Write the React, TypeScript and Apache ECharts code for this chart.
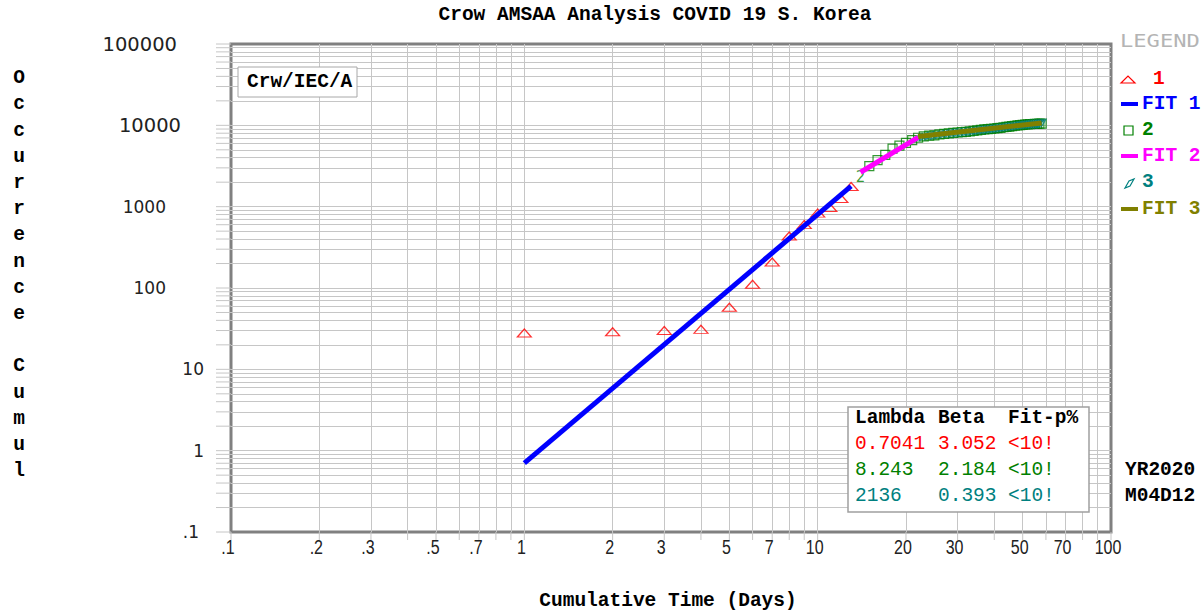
import React, { useEffect, useRef } from "react";
import * as echarts from "echarts";

// ---------- DATA ----------
const series1Days = [1, 2, 3, 4, 5, 6, 7, 8, 9, 10, 11, 12, 13];
const series1Cases = [28, 29, 30, 31, 58, 111, 209, 436, 602, 833, 977, 1261, 1766];

const series2Days = [
  14, 15, 16, 17, 18, 19, 20, 21, 22, 23, 24, 25, 26, 27, 28, 29, 30, 31, 32, 33, 34, 35, 36,
  37, 38, 39, 40, 41, 42, 43, 44, 45, 46, 47, 48, 49, 50, 51, 52, 53, 54, 55, 56, 57, 58,
];
const series2Cases = [
  2337, 3150, 3736, 4335, 5186, 5621, 6088, 6593, 7041, 7313, 7478, 7513, 7755, 7869, 7979,
  8086, 8162, 8236, 8320, 8413, 8565, 8652, 8799, 8897, 8961, 9037, 9137, 9241, 9332, 9478,
  9583, 9661, 9786, 9887, 9976, 10062, 10156, 10237, 10284, 10331, 10384, 10423, 10450, 10480,
  10512,
];

const series3Days = [
  22, 23, 24, 25, 26, 27, 28, 29, 30, 31, 32, 33, 34, 35, 36, 37, 38, 39, 40, 41, 42, 43, 44,
  45, 46, 47, 48, 49, 50, 51, 52, 53, 54, 55, 56, 57, 58,
];
const series3Cases = [
  7041, 7313, 7478, 7513, 7755, 7869, 7979, 8086, 8162, 8236, 8320, 8413, 8565, 8652, 8799,
  8897, 8961, 9037, 9137, 9241, 9332, 9478, 9583, 9661, 9786, 9887, 9976, 10062, 10156, 10237,
  10284, 10331, 10384, 10423, 10450, 10480, 10512,
];

const fit1Days = [1, 13];
const fit1Values = [0.704, 1790];
const fit2Days = [14, 22];
const fit2Values = [2650, 7100];
const fit3Days = [22, 58];
const fit3Values = [7300, 10700];

const xTickValues = [0.1, 0.2, 0.3, 0.5, 0.7, 1, 2, 3, 5, 7, 10, 20, 30, 50, 70, 100];
const xTickLabels = [".1", ".2", ".3", ".5", ".7", "1", "2", "3", "5", "7", "10", "20", "30", "50", "70", "100"];
const yTickValues = [0.1, 1, 10, 100, 1000, 10000, 100000];
const yTickLabels = [".1", "1", "10", "100", "1000", "10000", "100000"];

const tableHeader = ["Lambda", "Beta", "Fit-p%"];
const tableLambda = ["0.7041", "8.243", "2136"];
const tableBeta = ["3.052", "2.184", "0.393"];
const tableFit = ["<10!", "<10!", "<10!"];

const legendNames = ["1", "FIT 1", "2", "FIT 2", "3", "FIT 3"];

// ---------- STYLE / LAYOUT ----------
const RED = "#ff0000";
const BLUE = "#0000ff";
const GREEN = "#008000";
const MAGENTA = "#ff00ff";
const TEAL = "#008080";
const OLIVE = "#808000";
const rowColors = [RED, GREEN, TEAL];
const legendColors = [RED, BLUE, GREEN, MAGENTA, TEAL, OLIVE];
const legendKinds = ["tri", "line", "square", "line", "para", "line"];
const legendRowY = [79, 104, 130, 156, 182, 209];
const legendTextX = [1153, 1142, 1142, 1142, 1142, 1142];

const MONO = "'Liberation Mono', 'DejaVu Sans Mono', monospace";
const GRID = { left: 231, top: 44, right: 92, bottom: 81 };
const yLabelRight = [199, 204, 204, 166, 166, 181, 177];
const yLabelSize = [17, 17, 17, 17, 17, 19.5, 19.5];
const GRID_COLOR = "#c6c6c6";

const decadeMultiples = (from: number, to: number) => {
  const out: number[] = [];
  for (let d = from; d < to; d *= 10) {
    for (let m = 1; m <= 9; m++) out.push(+(d * m).toPrecision(6));
  }
  out.push(to);
  return out;
};
const xGrid = decadeMultiples(0.1, 100);
const yGrid = decadeMultiples(0.1, 100000);

const pairs = (xs: number[], ys: number[]) => xs.map((x, i) => [x, ys[i]]);

export default function App() {
  const ref = useRef<HTMLDivElement>(null);

  useEffect(() => {
    document.body.style.margin = "0";
    const chart = echarts.init(ref.current!, undefined, { renderer: "svg" });

    const s2Data: any[] = pairs(series2Days, series2Cases).map((p, i) =>
      i === 0
        ? {
            value: p,
            symbolSize: 0,
            label: {
              show: true,
              position: "inside",
              formatter: "2",
              color: GREEN,
              fontSize: 15,
              fontFamily: "DejaVu Sans",
            },
          }
        : p
    );

    const innerGrid = [
      ...xGrid.filter((v) => v > 0.1 && v < 100).map((v) => ({ xAxis: v })),
      ...yGrid.filter((v) => v > 0.1 && v < 100000).map((v) => ({ yAxis: v })),
    ];

    chart.setOption({
      animation: false,
      backgroundColor: "#ffffff",
      grid: {
        ...GRID,
        show: true,
        borderColor: "#808080",
        borderWidth: 3,
        backgroundColor: "transparent",
        containLabel: false,
      },
      xAxis: {
        type: "log",
        logBase: 10,
        min: 0.1,
        max: 100,
        axisLabel: { show: false },
        axisLine: { show: false },
        axisTick: { show: false },
        splitLine: { show: false },
      },
      yAxis: {
        type: "log",
        logBase: 10,
        min: 0.1,
        max: 100000,
        axisLabel: { show: false },
        axisLine: { show: false },
        axisTick: { show: false },
        splitLine: { show: false },
      },
      series: [
        {
          name: "gridlines",
          type: "line",
          data: [],
          z: 1,
          silent: true,
          markLine: {
            z: 1,
            silent: true,
            symbol: "none",
            label: { show: false },
            animation: false,
            lineStyle: { color: GRID_COLOR, width: 1, type: "solid" },
            emphasis: { disabled: true },
            data: innerGrid,
          },
        },
        {
          name: "1",
          type: "scatter",
          z: 3,
          symbol: "path://M0,8L7,0L14,8Z",
          symbolSize: [14, 8],
          itemStyle: { color: "rgba(0,0,0,0)", borderColor: RED, borderWidth: 1.2 },
          data: pairs(series1Days, series1Cases),
        },
        {
          name: "FIT 1",
          type: "line",
          z: 4,
          symbol: "none",
          showSymbol: false,
          lineStyle: { color: BLUE, width: 5 },
          itemStyle: { color: BLUE },
          data: pairs(fit1Days, fit1Values),
        },
        {
          name: "2",
          type: "scatter",
          z: 3,
          symbol: "rect",
          symbolSize: 9,
          itemStyle: { color: "rgba(0,0,0,0)", borderColor: GREEN, borderWidth: 1.2 },
          data: s2Data,
        },
        {
          name: "FIT 2",
          type: "line",
          z: 4,
          symbol: "none",
          showSymbol: false,
          lineStyle: { color: MAGENTA, width: 5 },
          itemStyle: { color: MAGENTA },
          data: pairs(fit2Days, fit2Values),
        },
        {
          name: "3",
          type: "scatter",
          z: 3,
          symbol: "path://M0,10L4,3L10,0L6,7Z",
          symbolSize: 8,
          itemStyle: { color: "rgba(0,0,0,0)", borderColor: TEAL, borderWidth: 1.2 },
          data: pairs(series3Days, series3Cases),
        },
        {
          name: "FIT 3",
          type: "line",
          z: 4,
          symbol: "none",
          showSymbol: false,
          lineStyle: { color: OLIVE, width: 5 },
          itemStyle: { color: OLIVE },
          data: pairs(fit3Days, fit3Values),
        },
      ],
    });

    const toX = (v: number) => chart.convertToPixel({ xAxisIndex: 0 }, v) as number;
    const toY = (v: number) => chart.convertToPixel({ yAxisIndex: 0 }, v) as number;
    const bottomY = toY(0.1);
    const leftX = toX(0.1);

    const g: any[] = [];
    // outside ticks
    xGrid.forEach((v) => {
      const x = toX(v);
      g.push({
        type: "line",
        silent: true,
        shape: { x1: x, y1: bottomY, x2: x, y2: bottomY + 8 },
        style: { stroke: GRID_COLOR, lineWidth: 1 },
      });
    });
    yGrid.forEach((v) => {
      const y = toY(v);
      g.push({
        type: "line",
        silent: true,
        shape: { x1: leftX - 15, y1: y, x2: leftX, y2: y },
        style: { stroke: GRID_COLOR, lineWidth: 1 },
      });
    });
    // x tick labels
    xTickValues.forEach((v, i) => {
      g.push({
        type: "text",
        x: toX(v) - 3,
        y: bottomY + 15,
        scaleX: 0.8,
        style: {
          text: xTickLabels[i],
          fontFamily: "'Liberation Sans', Arial, sans-serif",
          fontSize: 20,
          fill: "#222",
          align: "center",
          verticalAlign: "middle",
        },
      });
    });
    // y tick labels
    yTickValues.forEach((v, i) => {
      g.push({
        type: "text",
        x: yLabelRight[i],
        y: toY(v),
        style: {
          text: yTickLabels[i],
          fontFamily: "'DejaVu Sans', sans-serif",
          fontSize: yLabelSize[i],
          fill: "#222",
          align: "right",
          verticalAlign: "middle",
        },
      });
    });
    const monoText = (text: string, x: number, y: number, fill: string, bold = true, align = "left") => ({
      type: "text",
      x,
      y,
      z: 11,
      style: {
        text,
        fontFamily: MONO,
        fontWeight: bold ? "bold" : "normal",
        fontSize: 19.5,
        fill,
        align,
        verticalAlign: "middle",
      },
    });
    // titles
    g.push(monoText("Crow AMSAA Analysis COVID 19 S. Korea", 655, 15, "#000", true, "center"));
    g.push(monoText("Cumulative Time (Days)", 668, 601, "#000", true, "center"));
    g.push({
      type: "text",
      x: 19,
      y: 65,
      style: {
        text: "Occurrence Cumul".split("").join("\n"),
        fontFamily: MONO,
        fontWeight: "bold",
        fontSize: 19.5,
        lineHeight: 26.2,
        fill: "#000",
        align: "center",
        verticalAlign: "top",
      },
    });
    // method box
    g.push({
      type: "rect",
      z: 10,
      shape: { x: 238, y: 67, width: 119, height: 30 },
      style: { fill: "#fff", stroke: "#a8a8a8", lineWidth: 1 },
    });
    g.push(monoText("Crw/IEC/A", 247, 82, "#000"));
    // parameter table
    g.push({
      type: "rect",
      z: 10,
      shape: { x: 848, y: 407, width: 241, height: 105 },
      style: { fill: "#fff", stroke: "#a0a0a0", lineWidth: 1.5 },
    });
    const colX = [855, 938, 1008];
    tableHeader.forEach((h, c) => g.push(monoText(h, colX[c], 418, "#000")));
    [tableLambda, tableBeta, tableFit].forEach((col, c) => {
      col.forEach((val, r) => g.push(monoText(val, colX[c], 444 + r * 26, rowColors[r], false)));
    });
    // date stamp
    ["YR2020", "M04D12"].forEach((t, i) => g.push(monoText(t, 1125, 470 + i * 26, "#000")));
    // legend header
    g.push({
      type: "text",
      x: 1120,
      y: 41,
      scaleX: 1.3,
      style: {
        text: "LEGEND",
        fontFamily: "'DejaVu Sans Mono', monospace",
        fontSize: 17,
        fill: "#b4b4b4",
        align: "left",
        verticalAlign: "middle",
      },
    });
    // legend items
    legendNames.forEach((name, i) => {
      const y = legendRowY[i];
      const c = legendColors[i];
      const kind = legendKinds[i];
      if (kind === "line") {
        g.push({
          type: "line",
          shape: { x1: 1121, y1: y, x2: 1138, y2: y },
          style: { stroke: c, lineWidth: 4 },
        });
      } else if (kind === "tri") {
        g.push({
          type: "polygon",
          shape: { points: [[1121, y + 4], [1128, y - 3], [1135, y + 4]] },
          style: { fill: "none", stroke: c, lineWidth: 1.2 },
        });
      } else if (kind === "square") {
        g.push({
          type: "rect",
          shape: { x: 1124, y: y - 4, width: 9, height: 9 },
          style: { fill: "none", stroke: c, lineWidth: 1.2 },
        });
      } else {
        g.push({
          type: "polygon",
          shape: { points: [[1125, y + 6], [1129, y - 1], [1134, y - 3], [1130, y + 4]] },
          style: { fill: "none", stroke: c, lineWidth: 1.2 },
        });
      }
      g.push(monoText(name, legendTextX[i], y, c));
    });

    chart.setOption({ graphic: g });

    return () => chart.dispose();
  }, []);

  return (
    <div
      ref={ref}
      style={{ position: "fixed", left: 0, top: 0, width: 1203, height: 613, background: "#fff" }}
    />
  );
}
